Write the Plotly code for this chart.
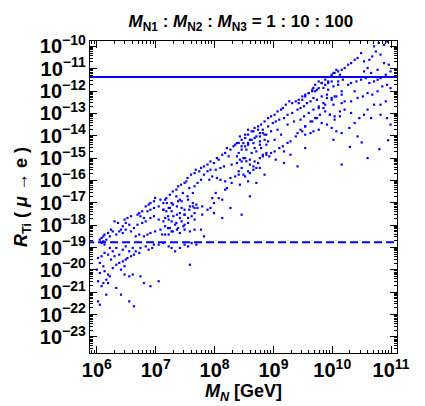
import plotly.graph_objects as go

# log10 of M_N [GeV] and log10 of R_Ti (grouped by region of the plot)
low_logM = [
    6.91,6.97,6.88,6.83,6.99,7.08,7.19,7.27,7.38,7.44,
    7.55,7.63,7.69,7.66,7.58,7.49,7.44,7.36,7.27,7.22,
    7.13,7.05,6.97,6.91,6.86,6.77,6.72,6.69,6.74,6.80,
    6.58,6.52,6.47,6.49,6.55,6.44,6.41,6.36,6.30,6.24,
    6.19,6.13,6.11,6.08,6.05,6.11,6.16,6.22,6.27,6.33,
    6.38,6.44,6.49,6.58,6.63,6.69,6.77,6.83,6.91,6.97,
    7.05,7.13,7.22,7.30,7.36,7.41,7.49,7.55,7.61,7.66,
    7.44,7.33,7.24,7.16,7.08,6.99,6.91,6.86,6.80,6.72,
    6.66,7.11,7.22,7.27,7.36,7.41,7.49,7.58,7.66,7.55,
    7.47,
    6.08,6.13,6.22,6.27,6.33,6.30,6.24,6.19,6.13,6.08,
    6.02,6.05,6.11,6.00,6.05,6.13,6.19,6.16,6.11,6.02,
    6.08,6.19,6.22,6.27,6.33,6.38,6.41,6.44,6.49,6.52,
    6.58,6.63,6.66,6.72,6.74,6.83,6.88,6.94,6.97,7.05,
    7.13,7.22,7.27,7.33,7.41,7.49,7.55,7.61,6.55,6.61,
    6.44,6.49,6.38,6.47,6.61,6.55,6.47,6.74,6.80,6.91,
    7.05,7.58,6.33,6.41,6.16,6.02,6.05,6.55,6.63,7.69,
]
low_logR = [
    -17.01,-16.93,-17.08,-17.16,-16.78,-16.86,-17.01,-17.01,-16.93,-16.93,
    -16.86,-17.01,-17.08,-17.23,-17.16,-17.31,-17.23,-17.16,-17.38,-17.23,
    -17.31,-17.16,-17.23,-17.31,-17.38,-17.38,-17.46,-17.53,-17.60,-17.68,
    -17.60,-17.68,-17.75,-17.90,-17.98,-18.05,-18.20,-17.90,-17.83,-18.20,
    -18.35,-18.42,-18.50,-18.57,-18.65,-18.72,-18.65,-18.50,-18.28,-18.42,
    -18.28,-18.35,-18.20,-18.28,-18.13,-17.98,-17.90,-17.83,-17.68,-17.60,
    -17.75,-17.83,-17.75,-17.60,-17.53,-17.46,-17.53,-17.68,-17.60,-17.46,
    -17.83,-17.98,-18.13,-18.05,-18.20,-18.28,-18.35,-18.42,-18.50,-18.42,
    -18.50,-18.42,-18.42,-18.28,-18.20,-18.35,-18.20,-18.28,-18.20,-17.90,
    -18.05,
    -18.80,-18.87,-19.02,-19.17,-19.02,-19.39,-19.54,-19.32,-19.24,-19.39,
    -19.47,-19.69,-19.84,-19.99,-20.14,-20.06,-20.21,-20.44,-20.59,-20.51,
    -20.73,-20.59,-20.29,-19.92,-19.77,-19.69,-19.99,-19.62,-19.54,-19.47,
    -19.39,-19.32,-19.17,-19.24,-19.02,-18.95,-19.10,-19.02,-18.87,-18.87,
    -18.80,-18.95,-19.02,-19.17,-19.02,-18.87,-18.95,-18.80,-19.17,-19.02,
    -19.10,-18.95,-19.32,-19.84,-20.21,-20.29,-20.21,-20.29,-20.59,-20.73,
    -20.51,-19.77,-20.81,-21.11,-21.11,-21.41,-21.56,-21.41,-21.63,-18.87,
]

mid_logM = [
    8.57,8.66,8.74,8.82,8.88,8.77,8.68,8.60,8.52,8.43,
    8.49,8.57,8.66,8.77,8.85,8.88,8.79,8.71,8.63,8.54,
    8.46,8.38,8.32,8.27,8.21,8.18,8.24,8.13,8.07,8.04,
    7.99,7.93,7.88,7.82,7.77,7.74,7.68,7.66,7.60,7.54,
    7.52,7.49,7.43,7.38,7.35,7.29,7.24,7.18,7.16,7.13,
    7.82,7.88,7.93,8.02,8.10,8.16,8.29,8.38,8.46,8.52,
    8.60,8.68,8.77,8.82,8.88,8.66,8.57,8.49,8.41,8.35,
    8.27,8.18,8.10,8.04,7.96,7.91,7.77,7.71,7.66,7.57,
    7.63,7.54,7.46,7.41,7.35,7.29,7.24,7.18,7.13,7.16,
    7.21,7.27,7.35,7.41,7.49,7.57,7.63,7.71,7.79,7.88,
    7.93,7.99,8.07,8.13,8.18,8.21,8.02,7.96,8.29,8.43,
    8.57,8.71,8.60,8.46,8.13,7.99,7.79,7.66,7.49,7.38,
    7.29,7.21,7.16,7.77,7.82,8.27,8.77,8.85,
]
mid_logR = [
    -13.73,-13.80,-13.73,-13.88,-13.95,-14.03,-14.10,-14.18,-13.95,-14.03,
    -14.33,-14.40,-14.33,-14.25,-14.18,-14.40,-14.55,-14.70,-14.77,-14.62,
    -14.47,-14.33,-14.47,-14.62,-14.55,-14.77,-14.92,-14.85,-15.07,-15.00,
    -15.22,-15.15,-15.29,-15.37,-15.44,-15.59,-15.52,-15.67,-15.74,-15.89,
    -16.04,-16.11,-16.19,-16.26,-16.41,-16.49,-16.64,-16.79,-16.86,-17.01,
    -15.74,-15.59,-15.52,-15.52,-15.44,-15.37,-15.29,-15.22,-15.15,-15.00,
    -15.07,-15.15,-15.00,-14.85,-14.77,-15.52,-15.59,-15.74,-15.59,-15.82,
    -15.89,-16.04,-15.97,-15.89,-15.82,-15.97,-15.97,-16.11,-16.26,-16.34,
    -16.56,-16.71,-16.56,-16.86,-16.71,-17.08,-17.23,-17.38,-17.31,-17.68,
    -17.60,-17.83,-17.90,-17.68,-17.53,-17.31,-17.16,-17.23,-17.16,-17.31,
    -17.23,-17.01,-16.79,-16.86,-16.41,-16.34,-16.56,-16.79,-16.11,-16.19,
    -16.04,-16.11,-16.71,-17.53,-17.68,-17.46,-17.53,-17.75,-17.98,-18.13,
    -18.28,-18.13,-18.42,-18.20,-18.50,-17.23,-15.44,-15.74,
]

upper_logM = [
    10.02,10.07,10.13,9.99,9.93,9.88,9.82,9.77,9.71,9.68,
    9.74,9.66,9.60,9.54,9.49,9.43,9.38,9.32,9.27,9.21,
    9.16,9.13,9.07,9.02,8.96,8.91,8.85,8.79,8.74,8.68,
    8.63,8.57,8.52,8.46,8.41,8.35,9.85,9.93,10.02,10.10,
    10.16,10.07,9.99,9.91,9.82,9.74,9.68,9.63,9.57,9.52,
    9.46,9.41,9.32,9.24,9.18,9.10,9.04,8.99,8.91,8.82,
    8.77,8.71,8.63,8.57,8.52,8.46,8.41,8.38,8.43,8.49,
    8.54,8.60,8.66,8.74,8.82,8.88,8.96,9.02,9.10,9.16,
    9.24,9.29,9.38,9.41,9.46,9.54,9.63,9.71,9.79,9.88,
    9.96,10.04,10.13,10.16,10.02,9.88,9.77,9.54,9.41,10.02,
    10.16,9.18,9.04,8.93,8.46,8.41,8.52,8.60,8.71,9.18,
    9.29,9.13,9.02,8.91,8.85,8.68,8.77,8.96,9.07,9.24,
    9.35,
]
upper_logR = [
    -11.19,-11.05,-11.27,-11.34,-11.57,-11.49,-11.64,-11.57,-11.72,-11.86,
    -11.94,-12.01,-12.09,-12.16,-12.24,-12.39,-12.46,-12.54,-12.46,-12.61,
    -12.76,-12.83,-12.91,-13.06,-13.13,-13.21,-13.36,-13.50,-13.58,-13.65,
    -13.80,-13.95,-14.10,-14.18,-14.32,-14.40,-11.86,-11.94,-11.79,-11.72,
    -12.01,-12.24,-12.31,-12.16,-12.24,-12.39,-12.31,-12.46,-12.54,-12.68,
    -12.76,-12.83,-12.98,-13.06,-13.21,-13.28,-13.36,-13.43,-13.58,-13.73,
    -13.88,-14.03,-14.18,-14.32,-14.47,-14.62,-14.77,-14.92,-15.07,-15.00,
    -15.14,-15.29,-15.37,-15.22,-14.92,-14.85,-14.77,-14.70,-14.55,-14.47,
    -14.32,-14.25,-14.03,-13.88,-13.73,-13.58,-13.36,-13.21,-13.06,-12.91,
    -13.06,-13.13,-12.91,-12.54,-12.61,-12.61,-12.76,-14.55,-15.37,-14.18,
    -15.29,-15.22,-15.07,-14.92,-15.44,-15.74,-15.82,-15.67,-15.44,-14.70,
    -14.85,-13.95,-14.18,-14.25,-13.95,-14.55,-14.40,-13.80,-13.73,-13.50,
    -13.36,
]

top_logM = [
    10.71,10.79,10.88,10.93,10.74,10.82,10.68,10.63,10.54,10.49,
    10.43,10.38,10.32,10.27,10.21,10.16,10.10,10.04,9.99,10.60,
    10.54,10.66,10.77,10.88,10.96,10.99,10.91,10.82,10.77,10.71,
    10.63,10.57,10.49,10.41,10.32,10.27,10.18,10.10,9.99,9.93,
    9.88,9.82,9.77,9.71,9.66,9.60,9.54,9.49,9.43,10.85,
    10.93,10.99,10.77,10.68,10.60,10.52,10.43,10.38,10.32,10.21,
    10.16,10.04,9.99,9.91,9.85,9.77,9.68,9.60,9.52,9.46,
    10.71,10.60,10.54,10.46,10.38,10.29,10.16,10.07,9.99,9.91,
    9.82,9.74,9.66,9.54,9.49,10.43,10.82,10.91,10.93,10.99,
    10.32,10.21,10.13,10.04,9.96,9.85,9.63,9.54,9.68,9.77,
    10.82,10.66,10.30,10.50,10.80,10.95,10.60,
]
top_logR = [
    -10.00,-9.85,-9.93,-9.78,-10.23,-10.37,-10.45,-10.60,-10.67,-10.30,
    -10.52,-10.60,-10.75,-10.82,-10.97,-11.05,-11.12,-11.19,-11.27,-10.97,
    -11.12,-11.19,-11.05,-10.75,-10.82,-11.12,-11.27,-11.42,-11.49,-11.57,
    -11.64,-11.42,-11.49,-11.57,-11.64,-11.72,-11.49,-11.57,-11.57,-11.64,
    -11.72,-11.64,-11.87,-12.01,-11.94,-12.09,-12.24,-12.39,-12.54,-11.79,
    -11.72,-11.87,-12.01,-12.16,-12.09,-12.24,-12.31,-12.01,-12.46,-12.46,
    -12.16,-12.24,-12.39,-12.31,-12.54,-12.69,-12.83,-12.98,-13.13,-13.28,
    -12.61,-12.83,-13.06,-13.21,-13.43,-13.65,-13.88,-13.80,-13.65,-13.50,
    -13.43,-13.21,-13.36,-13.58,-13.80,-14.03,-13.06,-12.46,-13.21,-13.50,
    -12.98,-12.83,-13.13,-13.28,-13.06,-12.76,-13.88,-13.95,-13.80,-13.73,
    -12.61,-13.21,-14.50,-14.30,-14.60,-14.20,-15.00,
]

# experimental bounds
current_bound = 4.3e-12
future_bound = 1.7e-19
mass_span = [1e5, 1e12]

logM = low_logM + mid_logM + upper_logM + top_logM
logR = low_logR + mid_logR + upper_logR + top_logR
M_N = [10 ** v for v in logM]
R_Ti = [10 ** v for v in logR]

BLUE = "#0000ff"
FAMILY = "Liberation Sans, Arial, sans-serif"
tick_font = dict(family=FAMILY, size=16, color="black", weight="bold")
title_font = dict(family=FAMILY, size=18, color="black", weight="bold")

fig = go.Figure()
fig.add_trace(go.Scatter(
    x=M_N, y=R_Ti, mode="markers",
    marker=dict(symbol="square", size=2.2, color=BLUE, line=dict(width=0)),
    showlegend=False, hoverinfo="skip",
))
fig.add_trace(go.Scatter(
    x=mass_span, y=[current_bound, current_bound], mode="lines",
    line=dict(color=BLUE, width=2), showlegend=False,
))
fig.add_trace(go.Scatter(
    x=mass_span, y=[future_bound, future_bound], mode="lines",
    line=dict(color=BLUE, width=2, dash="8px,4px"), showlegend=False,
))

axis_common = dict(
    type="log", dtick=1, exponentformat="power", showexponent="all",
    ticks="inside", ticklen=7, tickwidth=1, tickcolor="black",
    showline=True, linecolor="black", linewidth=1, mirror="allticks",
    showgrid=False, zeroline=False, automargin=True,
    tickfont=tick_font,
    minor=dict(ticks="inside", ticklen=3, tickcolor="black", showgrid=False),
)

fig.update_layout(
    width=425, height=406,
    margin=dict(l=77, r=36, t=33, b=61),
    paper_bgcolor="white", plot_bgcolor="white",
    title=dict(
        text="<i>M</i><sub>N1</sub> : <i>M</i><sub>N2</sub> : <i>M</i><sub>N3</sub> = 1 : 10 : 100",
        x=0.548, xanchor="center", y=0.968, yanchor="middle",
        font=dict(family=FAMILY, size=17, color="black", weight="bold"),
    ),
    xaxis=dict(axis_common, range=[5.883, 11.10],
               title=dict(text="<i>M</i><sub><i>N</i></sub> [GeV]", font=title_font, standoff=3)),
    yaxis=dict(axis_common, range=[-23.72, -9.76],
               title=dict(text="<i>R</i><sub>Ti</sub> ( <i>μ</i> → e )", font=title_font, standoff=7)),
)

fig.write_html("out.html")
